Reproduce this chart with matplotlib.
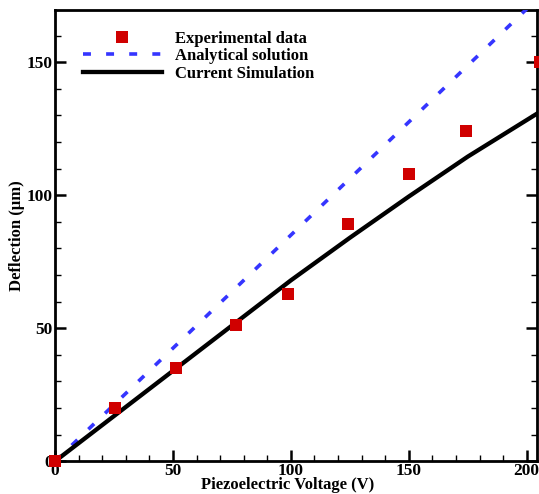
import matplotlib
matplotlib.use("Agg")
import matplotlib.pyplot as plt
from matplotlib.ticker import MultipleLocator

# Data
exp_v = [0, 25.4, 51.3, 76.7, 98.7, 124.2, 150, 174.4, 205.5]
exp_d = [0, 20.2, 35.2, 51.2, 62.9, 89.2, 108, 124.3, 150]
ana_v = [0, 50, 100, 150, 200, 210]
ana_d = [0, 42.5, 85, 127.5, 170, 178.5]
sim_v = [0, 25, 50, 75, 100, 125, 150, 175, 205]
sim_d = [0, 17, 34, 51, 68, 84, 99.5, 114.5, 131]

plt.rcParams['font.family'] = ['Liberation Serif', 'DejaVu Serif']
plt.rcParams['font.weight'] = 'bold'

FS = 12.5
LFS = 12.0

fig = plt.figure(figsize=(5.39, 4.94), dpi=100)
ax = fig.add_axes([55/539, (494-461.3)/494, (537.3-55)/539, (461.3-10.3)/494])

ax.plot(exp_v, exp_d, linestyle='none', marker='s', markersize=8.8,
        color='#D00000', markeredgewidth=0, label='Experimental data', zorder=4, clip_on=False)
ax.plot(ana_v, ana_d, color='#3535FF', linewidth=2.6, dashes=(2.2, 4.2),
        label='Analytical solution', zorder=3)
ax.plot(sim_v, sim_d, color='black', linewidth=3.1, label='Current Simulation', zorder=3)

ax.set_xlim(0, 204.5)
ax.set_ylim(0, 169.5)

ax.xaxis.set_major_locator(MultipleLocator(50))
ax.xaxis.set_minor_locator(MultipleLocator(10))
ax.yaxis.set_major_locator(MultipleLocator(50))
ax.yaxis.set_minor_locator(MultipleLocator(10))

ax.tick_params(which='both', direction='in', top=False, right=True, labelsize=FS, pad=1.5)
ax.tick_params(which='major', length=8, width=1.8)
ax.tick_params(which='minor', length=4, width=1.0)
for lab in ax.get_xticklabels() + ax.get_yticklabels():
    lab.set_fontweight('bold')

for s in ax.spines.values():
    s.set_linewidth(2.0)

ax.set_xlabel('Piezoelectric Voltage (V)', fontsize=LFS, fontweight='bold')
ax.set_ylabel('Deflection (\u03bcm)', fontsize=LFS, fontweight='bold')
ax.xaxis.set_label_coords((288-55)/482.3, -0.035)
ax.yaxis.set_label_coords(-0.063, 0.5)

leg = ax.legend(loc='upper left', bbox_to_anchor=((83.3-55)/482.3, (461.3-31)/451),
                frameon=False, borderpad=0, borderaxespad=0, handlelength=4.7,
                handletextpad=0.8, labelspacing=0.08, numpoints=1,
                prop={'family': 'Liberation Serif', 'weight': 'bold', 'size': LFS})

fig.savefig('out.png', dpi=100)
